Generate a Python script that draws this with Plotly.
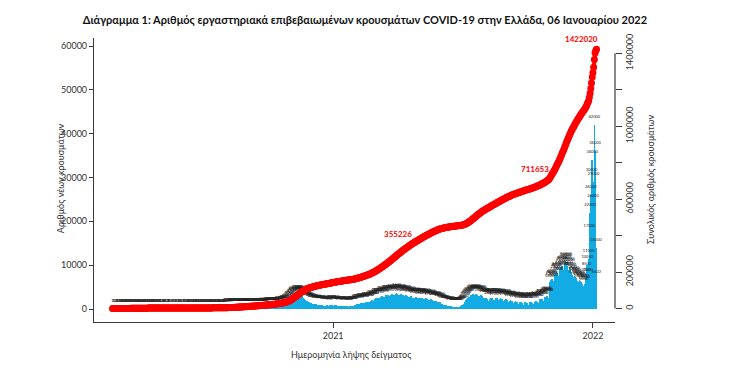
import numpy as np
import pandas as pd
import plotly.graph_objects as go

# ---------------- data (daily new cases by sample date) ----------------
start_date = "2020-02-26"
feb_2020 = [1, 1, 1, 4]
mar_2020 = [2, 3, 5, 8, 12, 15, 20, 10, 18, 25, 30, 35, 40, 28, 32, 45, 50, 55, 60, 70, 52, 48, 65, 75, 80, 78, 72, 55, 60, 70, 68]
apr_2020 = [72, 65, 60, 55, 40, 50, 58, 62, 55, 48, 35, 30, 42, 45, 40, 38, 30, 22, 18, 28, 32, 30, 25, 20, 15, 12, 18, 22, 20, 15]
may_2020 = [10, 8, 6, 12, 14, 10, 9, 8, 5, 4, 10, 12, 11, 9, 8, 6, 5, 10, 9, 8, 7, 6, 4, 3, 8, 10, 12, 9, 8, 5, 6]
jun_2020 = [8, 10, 12, 9, 7, 5, 10, 14, 18, 12, 10, 8, 6, 15, 20, 22, 18, 15, 12, 10, 16, 25, 20, 18, 15, 10, 12, 14, 16, 18]
jul_2020 = [15, 20, 25, 22, 18, 14, 20, 25, 30, 28, 24, 18, 22, 28, 30, 35, 32, 26, 20, 30, 38, 42, 40, 36, 30, 45, 50, 55, 60, 58, 70]
aug_2020 = [60, 85, 110, 120, 130, 140, 125, 110, 150, 160, 170, 180, 200, 190, 170, 210, 220, 230, 240, 250, 230, 210, 250, 260, 270, 280, 290, 260, 240, 280, 300]
sep_2020 = [280, 260, 290, 300, 280, 250, 240, 270, 300, 320, 310, 290, 260, 270, 300, 330, 340, 320, 300, 280, 290, 310, 330, 350, 340, 320, 300, 310, 350, 380]
oct_2020 = [400, 420, 380, 350, 410, 450, 470, 480, 500, 460, 420, 480, 520, 560, 600, 620, 580, 540, 650, 700, 760, 820, 880, 900, 850, 920, 1100, 1250, 1400, 1600, 1750]
nov_2020 = [1900, 2100, 2300, 2500, 2700, 2900, 2800, 2600, 3000, 3200, 3300, 3250, 3100, 2900, 2700, 3000, 3100, 2900, 2700, 2500, 2300, 2100, 2000, 1900, 1800, 1700, 1600, 1500, 1400, 1350]
dec_2020 = [1300, 1250, 1200, 1100, 1050, 950, 1000, 1050, 1000, 950, 900, 850, 800, 750, 800, 850, 820, 780, 700, 650, 700, 750, 800, 780, 600, 550, 700, 850, 950, 1000, 900]
jan_2021 = [650, 700, 600, 800, 850, 750, 700, 650, 550, 600, 700, 720, 680, 650, 600, 550, 500, 620, 650, 600, 580, 560, 520, 500, 580, 620, 650, 700, 680, 640, 600]
feb_2021 = [900, 1000, 1100, 1150, 1200, 1050, 1000, 1200, 1300, 1400, 1350, 1300, 1150, 1100, 1350, 1500, 1600, 1650, 1550, 1400, 1350, 1700, 1850, 1950, 2000, 1900, 1750, 1800]
mar_2021 = [2200, 2400, 2500, 2600, 2550, 2400, 2100, 2500, 2700, 2900, 3000, 2850, 2600, 2300, 2800, 3100, 3200, 3300, 3150, 2900, 2600, 3000, 3300, 3400, 3500, 3300, 3000, 2700, 3200, 3500, 3600]
apr_2021 = [3400, 3300, 3000, 2600, 3100, 3400, 3500, 3300, 3100, 2800, 2500, 3000, 3200, 3100, 2900, 2700, 2500, 2300, 2700, 2900, 2800, 2600, 2500, 2200, 2000, 2500, 2700, 2600, 2500, 2400]
may_2021 = [2000, 1800, 2400, 2600, 2500, 2400, 2300, 2100, 1900, 2300, 2400, 2300, 2200, 2100, 1900, 1700, 2100, 2200, 2100, 2000, 1900, 1700, 1500, 1800, 1900, 1800, 1700, 1600, 1400, 1300, 1500]
jun_2021 = [1400, 1200, 1100, 1000, 900, 800, 950, 900, 850, 750, 700, 600, 550, 600, 650, 600, 550, 500, 450, 400, 500, 550, 520, 480, 450, 420, 480, 550, 600, 650]
jul_2021 = [800, 950, 900, 1200, 1500, 1800, 2000, 2200, 2500, 2700, 2400, 2800, 3000, 3200, 3300, 3400, 3100, 2900, 3300, 3500, 3400, 3300, 3200, 2900, 2600, 3000, 3200, 3100, 3000, 2800, 2500]
aug_2021 = [2200, 2400, 2500, 2400, 2300, 2200, 1900, 1800, 2300, 2500, 2600, 2500, 2400, 2100, 1700, 2000, 2400, 2500, 2400, 2300, 2000, 1800, 2200, 2400, 2300, 2200, 2100, 1900, 1700, 2100, 2300]
sep_2021 = [2200, 2100, 1900, 1600, 1400, 1900, 2000, 1900, 1800, 1600, 1400, 1200, 1700, 1800, 1600, 1500, 1300, 1100, 1000, 1500, 1600, 1500, 1400, 1200, 1000, 900, 1400, 1500, 1400, 1300]
oct_2021 = [1200, 1000, 900, 1500, 1600, 1500, 1400, 1300, 1100, 1000, 1600, 1700, 1800, 1700, 1600, 1400, 1300, 2000, 2200, 2300, 2200, 2100, 1900, 1800, 2500, 2700, 2800, 2900, 2800, 2600, 2500]
nov_2021 = [5600, 6200, 6600, 6900, 6700, 6400, 6000, 7200, 7800, 8200, 8400, 8100, 7600, 7200, 8600, 9200, 9600, 9900, 9700, 9000, 8400, 10000, 10600, 10800, 10400, 9800, 9000, 8400, 9600, 9400]
dec_2021 = [8500, 8100, 7800, 7300, 6700, 7600, 7400, 7100, 6800, 6500, 6100, 5600, 6700, 6500, 6200, 6000, 5700, 5300, 5000, 5800,
            5500, 7000, 8500, 10000, 7000, 11500, 17000, 22000, 26000, 30000, 34000]
jan_2022 = [24000, 29000, 42000, 36000, 14000, 6622]

label_values = [355226, 711653, 1422020]
x_tick_vals = ["2021-01-01", "2022-01-01"]
x_tick_text = ["2021", "2022"]
y1_ticks = [0, 10000, 20000, 30000, 40000, 50000, 60000]
y2_ticks = [0, 200000, 400000, 600000, 800000, 1000000, 1200000, 1400000]
y2_tick_text = ["0", "200000", "", "600000", "", "1000000", "", "1400000"]

title_text = "Διάγραμμα 1: Αριθμός εργαστηριακά επιβεβαιωμένων κρουσμάτων COVID-19 στην Ελλάδα, 06 Ιανουαρίου 2022"
y1_title = "Αριθμός νέων κρουσμάτων"
y2_title = "Συνολικός αριθμός κρουσμάτων"
x_title = "Ημερομηνία λήψης δείγματος"

# ---------------- build ----------------
daily = np.array(feb_2020 + mar_2020 + apr_2020 + may_2020 + jun_2020 + jul_2020 + aug_2020 + sep_2020
                 + oct_2020 + nov_2020 + dec_2020 + jan_2021 + feb_2021 + mar_2021 + apr_2021 + may_2021
                 + jun_2021 + jul_2021 + aug_2021 + sep_2021 + oct_2021 + nov_2021 + dec_2021 + jan_2022)
dates = pd.date_range(start_date, periods=len(daily), freq="D")
cumulative = np.cumsum(daily)

BLUE = "#12ABE3"
RED = "#FF0000"
AX = "#3a3a3a"
FONT = "Lato"

Y1_RANGE = [-2966, 61825]
LABEL_LIFT = 1825  # labels drawn ~8px above the bar tops

fig = go.Figure()
fig.add_trace(go.Bar(x=dates, y=daily, marker=dict(color=BLUE, line=dict(width=0)),
                     width=86400000, yaxis="y", showlegend=False, hoverinfo="skip"))
fig.add_trace(go.Scatter(x=dates, y=daily, mode="text", text=[str(v) for v in daily],
                         textposition="middle center", textfont=dict(size=4, color="#222", family=FONT),
                         yaxis="y2", showlegend=False, cliponaxis=False, hoverinfo="skip"))
fig.add_trace(go.Scatter(x=dates, y=cumulative, mode="lines+markers",
                         line=dict(color=RED, width=4), marker=dict(color=RED, size=7),
                         yaxis="y3", showlegend=False, cliponaxis=False, hoverinfo="skip"))

annotations = []
for val in label_values:
    idx = int(np.argmax(cumulative >= val))
    annotations.append(dict(x=dates[idx], y=val, xref="x", yref="y3", text=f"<b>{val}</b>",
                            showarrow=False, xanchor="center", yanchor="middle",
                            xshift=-15, yshift=10,
                            font=dict(size=8, color=RED, family=FONT)))

annotations += [
    dict(text=y1_title, xref="paper", yref="paper", x=-0.065, y=0.507, textangle=-90,
         xanchor="center", yanchor="middle",
         showarrow=False, font=dict(size=9, color="#333", family=FONT)),
    dict(text=y2_title, xref="paper", yref="paper", x=1.067, y=0.503, textangle=-90,
         xanchor="center", yanchor="middle",
         showarrow=False, font=dict(size=9, color="#333", family=FONT)),
    dict(text=x_title, xref="paper", yref="paper", x=0.495, y=-0.113, showarrow=False,
         xanchor="center", yanchor="middle",
         font=dict(size=9, color="#333", family=FONT)),
]

fig.update_layout(
    width=730, height=372,
    margin=dict(l=94, r=115, t=38, b=50, autoexpand=False),
    paper_bgcolor="white", plot_bgcolor="white",
    bargap=0, showlegend=False, hovermode=False,
    title=dict(text=f"<b>{title_text}</b>", x=0.5, xref="container", xanchor="center",
               y=0.946, yref="container", yanchor="middle",
               font=dict(size=11, color="#111", family=FONT)),
    font=dict(family=FONT, size=9, color="#333"),
    xaxis=dict(type="date", range=["2020-01-31", "2022-02-01"], showgrid=False, zeroline=False,
               showline=True, linecolor=AX, linewidth=1.2, ticks="outside", ticklen=5,
               tickcolor=AX, tickvals=x_tick_vals, ticktext=x_tick_text, automargin=False,
               tickfont=dict(size=9, color="#333")),
    yaxis=dict(range=Y1_RANGE, showgrid=False, zeroline=False, showline=True,
               linecolor=AX, linewidth=1.2, ticks="outside", ticklen=4, tickcolor=AX,
               tickvals=y1_ticks, tickformat="d", automargin=False,
               tickfont=dict(size=9, color="#333")),
    yaxis2=dict(range=[Y1_RANGE[0] - LABEL_LIFT, Y1_RANGE[1] - LABEL_LIFT], overlaying="y",
                visible=False, showgrid=False, zeroline=False, automargin=False),
    yaxis3=dict(range=[-74070, 1484000], overlaying="y", side="right", showgrid=False,
                zeroline=False, showline=False, ticks="outside", ticklen=6, tickcolor=AX,
                tickvals=y2_ticks, ticktext=y2_tick_text, tickangle=-90, automargin=False,
                tickfont=dict(size=9, color="#333")),
    annotations=annotations,
    shapes=[dict(type="line", xref="paper", yref="y3", x0=1, x1=1, y0=y2_ticks[0], y1=y2_ticks[-1],
                 line=dict(color=AX, width=1.2))],
)

fig.write_html("out.html", config={"displayModeBar": False},
               post_script="document.body.style.margin='0px';document.body.style.padding='0px';")
